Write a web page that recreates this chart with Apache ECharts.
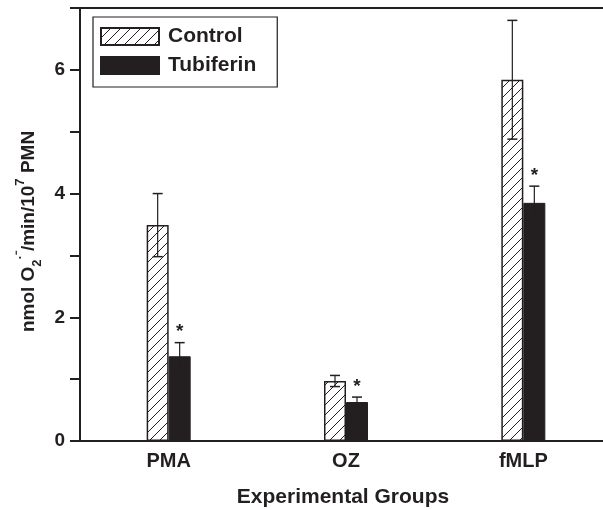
<!DOCTYPE html>
<html>
<head>
<meta charset="utf-8">
<script src="https://cdn.jsdelivr.net/npm/echarts@6/dist/echarts.min.js"></script>
<style>html,body{margin:0;padding:0;background:#fff}#c{width:603px;height:510px}</style>
</head>
<body>
<div id="c"></div>
<script>
const categories = ['PMA', 'OZ', 'fMLP'];
const controlMean = [3.49, 0.97, 5.84];
const controlErr = [0.51, 0.09, 0.96];
const tubiferinMean = [1.37, 0.63, 3.85];
const tubiferinErr = [0.22, 0.08, 0.27];
const yTicks = [0, 2, 4, 6];

const INK = '#231f20';
const BW = 22;

function hatch() {
  const s = 10;
  const c = document.createElement('canvas');
  c.width = s; c.height = s;
  const g = c.getContext('2d');
  g.fillStyle = '#fff'; g.fillRect(0, 0, s, s);
  g.strokeStyle = INK; g.lineWidth = 1;
  g.beginPath();
  g.moveTo(0, s); g.lineTo(s, 0);
  g.moveTo(-s / 2, s / 2); g.lineTo(s / 2, -s / 2);
  g.moveTo(s / 2, s * 1.5); g.lineTo(s * 1.5, s / 2);
  g.stroke();
  return c;
}
const hatchFill = { image: hatch(), repeat: 'repeat' };

function errData(mean, err) {
  return mean.map((m, i) => [i, m, err[i]]);
}

function errSeries(mean, err, offset, star) {
  return {
    type: 'custom',
    z: 10,
    data: errData(mean, err),
    renderItem: function (params, api) {
      const i = api.value(0), m = api.value(1), e = api.value(2);
      const base = api.coord([i, m]);
      const top = api.coord([i, m + e]);
      const bot = api.coord([i, m - e]);
      const x = base[0] + offset;
      const children = [
        { type: 'line', shape: { x1: x, y1: top[1], x2: x, y2: bot[1] }, style: { stroke: INK, lineWidth: 1.2 } },
        { type: 'line', shape: { x1: x - 5, y1: top[1], x2: x + 5, y2: top[1] }, style: { stroke: INK, lineWidth: 1.5 } },
        { type: 'line', shape: { x1: x - 5, y1: bot[1], x2: x + 5, y2: bot[1] }, style: { stroke: INK, lineWidth: 1.5 } }
      ];
      if (star) {
        children.push({ type: 'text', style: { text: '*', x: x, y: top[1] - 1, align: 'center', verticalAlign: 'bottom', fill: INK, font: 'bold 19px "Liberation Sans", Arial, sans-serif' } });
      }
      return { type: 'group', children: children };
    }
  };
}

const chart = echarts.init(document.getElementById('c'), null, { renderer: 'canvas' });
const font = '"Liberation Sans", Arial, sans-serif';
chart.setOption({
  animation: false,
  grid: { left: 80, right: -9, top: 8, bottom: 69, show: false, outerBoundsMode: 'none', containLabel: false },
  legend: {
    left: 93, top: 17,
    orient: 'vertical',
    data: ['Control', 'Tubiferin'],
    itemWidth: 58, itemHeight: 17, itemGap: 8,
    padding: [9, 21, 11, 7],
    borderColor: INK, borderWidth: 1.2,
    textStyle: { fontFamily: font, fontWeight: 'bold', fontSize: 21, color: INK, padding: [0, 0, 0, 4] },
    icon: 'rect'
  },
  xAxis: [{
    type: 'category',
    data: categories,
    axisLine: { lineStyle: { color: INK, width: 2 } },
    axisTick: { show: false },
    axisLabel: { fontFamily: font, fontWeight: 'bold', fontSize: 20, color: INK, margin: 10 },
    name: 'Experimental Groups',
    nameLocation: 'middle',
    nameGap: 46,
    nameTextStyle: { fontFamily: font, fontWeight: 'bold', fontSize: 21, color: INK, padding: [0, 6, 0, 0] }
  }, {
    type: 'category',
    position: 'top',
    data: categories,
    axisLine: { show: true, lineStyle: { color: INK, width: 2 } },
    axisTick: { show: false },
    axisLabel: { show: false }
  }],
  yAxis: {
    type: 'value',
    min: 0, max: 7, interval: 2,
    axisLine: { show: true, lineStyle: { color: INK, width: 2 } },
    axisTick: { show: true, length: 10, inside: false, lineStyle: { color: INK, width: 2 } },
    minorTick: { show: true, splitNumber: 2, length: 10, lineStyle: { color: INK, width: 2 } },
    splitLine: { show: false },
    axisLabel: {
      fontFamily: font, fontWeight: 'bold', fontSize: 19, color: INK, margin: 15,
      formatter: function (v) { return yTicks.indexOf(v) >= 0 ? String(v) : ''; }
    },
    name: '{b|nmol O}{sub|2}{sup|·⁻}{b|/min/10}{sup|7}{b| PMN}',
    nameLocation: 'middle',
    nameGap: 32,
    nameRotate: 90,
    nameTextStyle: {
      padding: [0, 14, 0, 0],
      rich: {
        b: { fontFamily: font, fontWeight: 'bold', fontSize: 19, color: INK, lineHeight: 30, verticalAlign: 'middle' },
        sub: { fontFamily: font, fontWeight: 'bold', fontSize: 13, color: INK, lineHeight: 30, verticalAlign: 'bottom', padding: [10, 0, 0, 0] },
        sup: { fontFamily: font, fontWeight: 'bold', fontSize: 13, color: INK, lineHeight: 30, verticalAlign: 'top', padding: [0, 0, 10, 0] }
      }
    }
  },
  series: [
    {
      name: 'Control', type: 'bar', data: controlMean, barWidth: BW, barGap: '0%',
      itemStyle: { color: hatchFill, borderColor: INK, borderWidth: 1.5 }
    },
    {
      name: 'Tubiferin', type: 'bar', data: tubiferinMean, barWidth: BW, barGap: '0%',
      itemStyle: { color: INK, borderColor: INK, borderWidth: 1 }
    },
    errSeries(controlMean, controlErr, -BW / 2, false),
    errSeries(tubiferinMean, tubiferinErr, BW / 2, true)
  ]
});
</script>
</body>
</html>
